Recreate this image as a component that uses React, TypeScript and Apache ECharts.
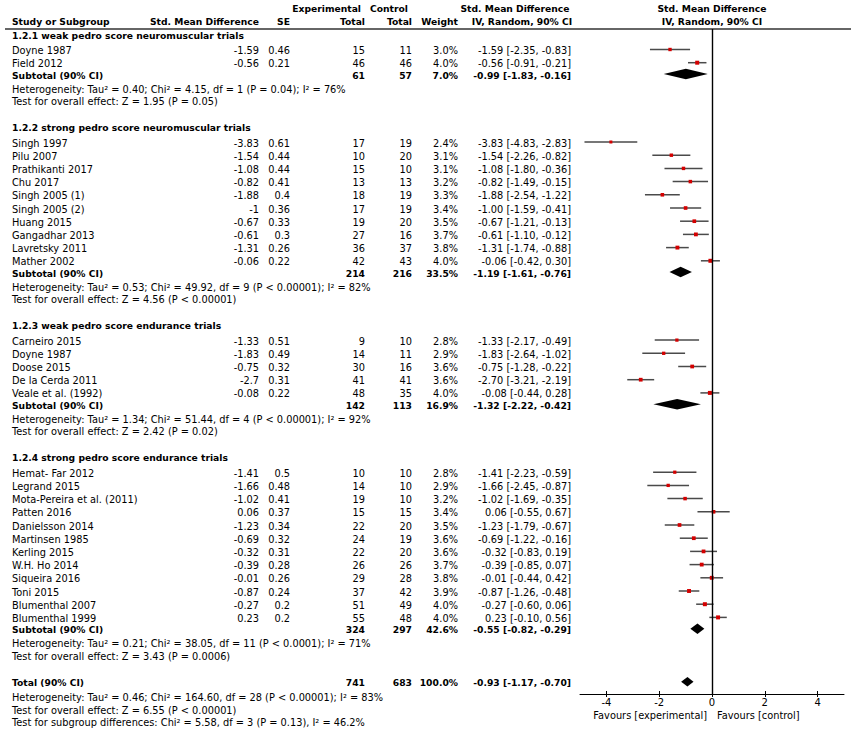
import React, { useEffect, useRef } from 'react';
import * as echarts from 'echarts';

// ---------------- data ----------------
const groupTitles = [
  '1.2.1 weak pedro score neuromuscular trials',
  '1.2.2 strong pedro score neuromuscular trials',
  '1.2.3 weak pedro score endurance trials',
  '1.2.4 strong pedro score endurance trials',
];

const studyNames = [
  'Doyne 1987', 'Field 2012',
  'Singh 1997', 'Pilu 2007', 'Prathikanti 2017', 'Chu 2017', 'Singh 2005 (1)', 'Singh 2005 (2)',
  'Huang 2015', 'Gangadhar 2013', 'Lavretsky 2011', 'Mather 2002',
  'Carneiro 2015', 'Doyne 1987', 'Doose 2015', 'De la Cerda 2011', 'Veale et al. (1992)',
  'Hemat- Far 2012', 'Legrand 2015', 'Mota-Pereira et al. (2011)', 'Patten 2016', 'Danielsson 2014',
  'Martinsen 1985', 'Kerling 2015', 'W.H. Ho 2014', 'Siqueira 2016', 'Toni 2015',
  'Blumenthal 2007', 'Blumenthal 1999',
];
const studyGroup = [
  0, 0,
  1, 1, 1, 1, 1, 1, 1, 1, 1, 1,
  2, 2, 2, 2, 2,
  3, 3, 3, 3, 3, 3, 3, 3, 3, 3, 3, 3,
];
const smd = [
  -1.59, -0.56,
  -3.83, -1.54, -1.08, -0.82, -1.88, -1, -0.67, -0.61, -1.31, -0.06,
  -1.33, -1.83, -0.75, -2.7, -0.08,
  -1.41, -1.66, -1.02, 0.06, -1.23, -0.69, -0.32, -0.39, -0.01, -0.87, -0.27, 0.23,
];
const se = [
  0.46, 0.21,
  0.61, 0.44, 0.44, 0.41, 0.4, 0.36, 0.33, 0.3, 0.26, 0.22,
  0.51, 0.49, 0.32, 0.31, 0.22,
  0.5, 0.48, 0.41, 0.37, 0.34, 0.32, 0.31, 0.28, 0.26, 0.24, 0.2, 0.2,
];
const expTotal = [
  15, 46,
  17, 10, 15, 13, 18, 17, 19, 27, 36, 42,
  9, 14, 30, 41, 48,
  10, 14, 19, 15, 22, 24, 22, 26, 29, 37, 51, 55,
];
const ctrlTotal = [
  11, 46,
  19, 20, 10, 13, 19, 19, 20, 16, 37, 43,
  10, 11, 16, 41, 35,
  10, 10, 10, 15, 20, 19, 20, 26, 28, 42, 49, 48,
];
const weights = [
  3.0, 4.0,
  2.4, 3.1, 3.1, 3.2, 3.3, 3.4, 3.5, 3.7, 3.8, 4.0,
  2.8, 2.9, 3.6, 3.6, 4.0,
  2.8, 2.9, 3.2, 3.4, 3.5, 3.6, 3.6, 3.7, 3.8, 3.9, 4.0, 4.0,
];
const ciLow = [
  -2.35, -0.91,
  -4.83, -2.26, -1.80, -1.49, -2.54, -1.59, -1.21, -1.10, -1.74, -0.42,
  -2.17, -2.64, -1.28, -3.21, -0.44,
  -2.23, -2.45, -1.69, -0.55, -1.79, -1.22, -0.83, -0.85, -0.44, -1.26, -0.60, -0.10,
];
const ciHigh = [
  -0.83, -0.21,
  -2.83, -0.82, -0.36, -0.15, -1.22, -0.41, -0.13, -0.12, -0.88, 0.30,
  -0.49, -1.02, -0.22, -2.19, 0.28,
  -0.59, -0.87, -0.35, 0.67, -0.67, -0.16, 0.19, 0.07, 0.42, -0.48, 0.06, 0.56,
];

const subExp = [61, 214, 142, 324];
const subCtrl = [57, 216, 113, 297];
const subWeight = [7.0, 33.5, 16.9, 42.6];
const subEst = [-0.99, -1.19, -1.32, -0.55];
const subLow = [-1.83, -1.61, -2.22, -0.82];
const subHigh = [-0.16, -0.76, -0.42, -0.29];
const subHet = [
  'Heterogeneity: Tau² = 0.40; Chi² = 4.15, df = 1 (P = 0.04); I² = 76%',
  'Heterogeneity: Tau² = 0.53; Chi² = 49.92, df = 9 (P < 0.00001); I² = 82%',
  'Heterogeneity: Tau² = 1.34; Chi² = 51.44, df = 4 (P < 0.00001); I² = 92%',
  'Heterogeneity: Tau² = 0.21; Chi² = 38.05, df = 11 (P < 0.0001); I² = 71%',
];
const subTest = [
  'Test for overall effect: Z = 1.95 (P = 0.05)',
  'Test for overall effect: Z = 4.56 (P < 0.00001)',
  'Test for overall effect: Z = 2.42 (P = 0.02)',
  'Test for overall effect: Z = 3.43 (P = 0.0006)',
];

const totalExp = 741;
const totalCtrl = 683;
const totalWeight = 100.0;
const totalEst = -0.93;
const totalLow = -1.17;
const totalHigh = -0.70;
const totalTexts = [
  'Heterogeneity: Tau² = 0.46; Chi² = 164.60, df = 28 (P < 0.00001); I² = 83%',
  'Test for overall effect: Z = 6.55 (P < 0.00001)',
  'Test for subgroup differences: Chi² = 5.58, df = 3 (P = 0.13), I² = 46.2%',
];

const xTicks = [-4, -2, 0, 2, 4];

// ---------------- layout ----------------
const FAMILY = '"DejaVu Sans", Verdana, sans-serif';
const REG = `9.8px ${FAMILY}`;
const BOLD = `bold 9.2px ${FAMILY}`;
const GRID_TOP = 29;
const GRID_BOTTOM_Y = 694;
const COL = { name: 12, smd: 259, se: 290, exp: 365, ctrl: 412, weight: 458, ci: 571 };

type Row = { y: number; kind: string; idx: number; text?: string };

function buildRows(): Row[] {
  const rows: Row[] = [];
  let y = 5;
  for (let g = 0; g < groupTitles.length; g++) {
    if (g > 0) y += 26;
    rows.push({ y, kind: 'heading', idx: g, text: groupTitles[g] });
    y += 15.5;
    let first = true;
    for (let i = 0; i < studyNames.length; i++) {
      if (studyGroup[i] !== g) continue;
      if (!first) y += 13.2;
      first = false;
      rows.push({ y, kind: 'study', idx: i });
    }
    y += 11.3;
    rows.push({ y, kind: 'subtotal', idx: g });
    y += 14;
    rows.push({ y, kind: 'note', idx: g, text: subHet[g] });
    y += 12.5;
    rows.push({ y, kind: 'note', idx: g, text: subTest[g] });
  }
  y += 26.5;
  rows.push({ y, kind: 'total', idx: 0 });
  y += 15;
  rows.push({ y, kind: 'note', idx: 0, text: totalTexts[0] });
  y += 12.5;
  rows.push({ y, kind: 'note', idx: 1, text: totalTexts[1] });
  y += 12;
  rows.push({ y, kind: 'note', idx: 2, text: totalTexts[2] });
  return rows;
}

const fmtCI = (e: number, l: number, h: number) =>
  `${e.toFixed(2)} [${l.toFixed(2)}, ${h.toFixed(2)}]`;

function txt(x: number, y: number, text: string, align: string, font: string) {
  return {
    type: 'text',
    x,
    y,
    style: { text, font, textAlign: align, textVerticalAlign: 'middle', fill: '#000' },
  };
}

export default function App() {
  const ref = useRef<HTMLDivElement>(null);

  useEffect(() => {
    if (!ref.current) return;
    const chart = echarts.init(ref.current, null, { renderer: 'svg' });
    const rows = buildRows();
    const yMax = GRID_BOTTOM_Y - GRID_TOP;

    const studyData = studyNames.map((_, i) => {
      const r = rows.find((rr) => rr.kind === 'study' && rr.idx === i)!;
      return [ciLow[i], ciHigh[i], smd[i], r.y, weights[i]];
    });
    const diamondData: number[][] = [];
    rows.forEach((r) => {
      if (r.kind === 'subtotal') diamondData.push([subLow[r.idx], subHigh[r.idx], subEst[r.idx], r.y, 10.5]);
      if (r.kind === 'total') diamondData.push([totalLow, totalHigh, totalEst, r.y, 9.5]);
    });

    const tableRender = (params: any, api: any) => {
      const r = rows[params.dataIndex];
      const py = api.coord([0, r.y])[1] + 1;
      const ch: any[] = [];
      if (r.kind === 'heading') {
        ch.push(txt(COL.name, py, r.text!, 'left', BOLD));
      } else if (r.kind === 'note') {
        ch.push(txt(COL.name, py, r.text!, 'left', REG));
      } else if (r.kind === 'study') {
        const i = r.idx;
        ch.push(txt(COL.name, py, studyNames[i], 'left', REG));
        ch.push(txt(COL.smd, py, String(smd[i]), 'right', REG));
        ch.push(txt(COL.se, py, String(se[i]), 'right', REG));
        ch.push(txt(COL.exp, py, String(expTotal[i]), 'right', REG));
        ch.push(txt(COL.ctrl, py, String(ctrlTotal[i]), 'right', REG));
        ch.push(txt(COL.weight, py, `${weights[i].toFixed(1)}%`, 'right', REG));
        ch.push(txt(COL.ci, py, fmtCI(smd[i], ciLow[i], ciHigh[i]), 'right', REG));
      } else if (r.kind === 'subtotal') {
        const g = r.idx;
        ch.push(txt(COL.name, py, 'Subtotal (90% CI)', 'left', BOLD));
        ch.push(txt(COL.exp, py, String(subExp[g]), 'right', BOLD));
        ch.push(txt(COL.ctrl, py, String(subCtrl[g]), 'right', BOLD));
        ch.push(txt(COL.weight, py, `${subWeight[g].toFixed(1)}%`, 'right', BOLD));
        ch.push(txt(COL.ci, py, fmtCI(subEst[g], subLow[g], subHigh[g]), 'right', BOLD));
      } else if (r.kind === 'total') {
        ch.push(txt(COL.name, py, 'Total (90% CI)', 'left', BOLD));
        ch.push(txt(COL.exp, py, String(totalExp), 'right', BOLD));
        ch.push(txt(COL.ctrl, py, String(totalCtrl), 'right', BOLD));
        ch.push(txt(COL.weight, py, `${totalWeight.toFixed(1)}%`, 'right', BOLD));
        ch.push(txt(COL.ci, py, fmtCI(totalEst, totalLow, totalHigh), 'right', BOLD));
      }
      return { type: 'group', children: ch };
    };

    const forestRender = (params: any, api: any) => {
      const lo = api.value(0), hi = api.value(1), est = api.value(2), y = api.value(3), w = api.value(4);
      const a = api.coord([lo, y]);
      const b = api.coord([hi, y]);
      const e = api.coord([est, y]);
      const s = w * 0.625 + 1.5;
      return {
        type: 'group',
        children: [
          { type: 'line', shape: { x1: a[0], y1: a[1], x2: b[0], y2: b[1] }, style: { stroke: '#4a4a4a', lineWidth: 1.5 } },
          { type: 'rect', shape: { x: e[0] - s / 2, y: e[1] - s / 2, width: s, height: s }, style: { fill: '#d40000' } },
        ],
      };
    };

    const diamondRender = (params: any, api: any) => {
      const lo = api.value(0), hi = api.value(1), est = api.value(2), y = api.value(3), h = api.value(4);
      const a = api.coord([lo, y]);
      const b = api.coord([hi, y]);
      const e = api.coord([est, y]);
      return {
        type: 'polygon',
        shape: { points: [[a[0], a[1]], [e[0], e[1] - h / 2], [b[0], b[1]], [e[0], e[1] + h / 2]] },
        style: { fill: '#000' },
      };
    };

    const hdr = (x: number, y: number, text: string, align: string) => ({
      type: 'text',
      x,
      y,
      style: { text, font: BOLD, textAlign: align, textVerticalAlign: 'middle', fill: '#000' },
    });

    chart.setOption({
      animation: false,
      backgroundColor: '#fff',
      grid: { left: 580, right: 12, top: GRID_TOP, bottom: 731 - GRID_BOTTOM_Y, containLabel: false },
      xAxis: [
        {
          type: 'value',
          min: -5,
          max: 5,
          position: 'bottom',
          axisLine: { show: true, onZero: false, lineStyle: { color: '#000', width: 1 } },
          axisTick: { show: true, length: 3, customValues: xTicks, lineStyle: { color: '#000' } },
          axisLabel: {
            customValues: xTicks,
            margin: 3,
            fontSize: 10,
            fontFamily: FAMILY,
            color: '#000',
          },
          splitLine: { show: false },
        },
        {
          type: 'value',
          min: -5,
          max: 5,
          position: 'bottom',
          offset: 0,
          axisLine: { show: false, onZero: false },
          axisTick: { show: true, inside: true, length: 3, customValues: xTicks, lineStyle: { color: '#000' } },
          axisLabel: { show: false },
          splitLine: { show: false },
        },
      ],
      yAxis: { type: 'value', min: 0, max: yMax, inverse: true, show: false },
      graphic: [
        { type: 'line', shape: { x1: 5, y1: GRID_TOP, x2: 851, y2: GRID_TOP }, style: { stroke: '#333', lineWidth: 1.5 } },
        hdr(361, 8, 'Experimental', 'right'),
        hdr(408, 8, 'Control', 'right'),
        hdr(12, 21, 'Study or Subgroup', 'left'),
        hdr(259, 21, 'Std. Mean Difference', 'right'),
        hdr(290, 21, 'SE', 'right'),
        hdr(365, 21, 'Total', 'right'),
        hdr(412, 21, 'Total', 'right'),
        hdr(458, 21, 'Weight', 'right'),
        hdr(515, 8, 'Std. Mean Difference', 'center'),
        hdr(522, 21, 'IV, Random, 90% CI', 'center'),
        hdr(712, 8, 'Std. Mean Difference', 'center'),
        hdr(712, 21, 'IV, Random, 90% CI', 'center'),
        {
          type: 'text', x: 707, y: 715,
          style: { text: 'Favours [experimental]', font: REG, textAlign: 'right', textVerticalAlign: 'middle', fill: '#000' },
        },
        {
          type: 'text', x: 717, y: 715,
          style: { text: 'Favours [control]', font: REG, textAlign: 'left', textVerticalAlign: 'middle', fill: '#000' },
        },
      ],
      series: [
        {
          type: 'custom',
          name: 'table',
          renderItem: tableRender,
          data: rows.map((r, i) => [0, r.y, i]),
          encode: { x: 0, y: 1 },
          clip: false,
          silent: true,
          z: 5,
        },
        {
          type: 'custom',
          name: 'studies',
          renderItem: forestRender,
          data: studyData,
          encode: { x: [0, 1, 2], y: 3 },
          clip: false,
          silent: true,
          z: 4,
          markLine: {
            silent: true,
            symbol: ['none', 'none'],
            label: { show: false },
            lineStyle: { color: '#000', width: 1.4, type: 'solid' },
            data: [{ xAxis: 0 }],
          },
        },
        {
          type: 'custom',
          name: 'pooled',
          renderItem: diamondRender,
          data: diamondData,
          encode: { x: [0, 1, 2], y: 3 },
          clip: false,
          silent: true,
          z: 4,
        },
      ],
    });

    return () => chart.dispose();
  }, []);

  return (
    <div
      ref={ref}
      style={{ position: 'absolute', left: 0, top: 0, width: 856, height: 731, background: '#fff' }}
    />
  );
}
